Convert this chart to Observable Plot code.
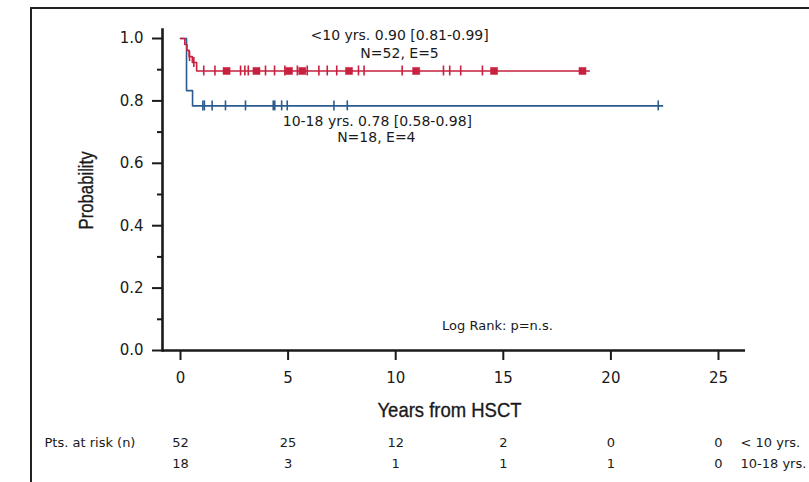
<!DOCTYPE html>
<html>
<head>
<meta charset="utf-8">
<script src="https://cdn.jsdelivr.net/npm/d3@7"></script>
<script src="https://cdn.jsdelivr.net/npm/@observablehq/plot@0.6"></script>
<style>
  html, body { margin: 0; padding: 0; background: #fff; }
  #wrap { position: relative; width: 809px; height: 482px; overflow: hidden; }
  #border { position: absolute; left: 30px; top: 7px; width: 900px; height: 600px;
            border-left: 2px solid #222; border-top: 2px solid #222; pointer-events: none; }
</style>
</head>
<body>
<div id="wrap"><div id="chart"></div><div id="border"></div></div>
<script>
// ---- data ----
const xTicks = [0, 5, 10, 15, 20, 25];
const yTicks = [0, 0.2, 0.4, 0.6, 0.8, 1.0];
const yMinorTicks = [0.1, 0.3, 0.5, 0.7, 0.9];

const groupYoung = "< 10 yrs.";
const groupOld = "10-18 yrs.";
const riskYoung = [52, 25, 12, 2, 0, 0];
const riskOld = [18, 3, 1, 1, 1, 0];

// Kaplan-Meier step points (time in years, survival probability)
const youngTimes = [0, 0.2, 0.3, 0.4, 0.55, 0.75, 19.0];
const youngSurv  = [1, 0.981, 0.962, 0.942, 0.923, 0.896, 0.896];
const oldTimes = [0, 0.28, 0.56, 22.4];
const oldSurv  = [1, 0.833, 0.784, 0.784];

// censoring marks (single ticks) and clustered marks (drawn as squares)
const youngCensor = [0.42, 0.62, 1.08, 1.60, 2.79, 2.99, 3.15, 3.95, 4.37, 4.85, 5.43, 5.89,
                     6.43, 6.82, 7.26, 8.27, 8.53, 10.30, 12.22, 12.51, 13.02, 14.03];
const youngCensorCluster = [2.14, 3.53, 5.04, 5.66, 7.83, 10.95, 14.57, 18.68];
const oldCensor = [1.04, 1.11, 1.47, 2.09, 3.02, 4.31, 4.38, 4.70, 4.96, 7.13, 7.75, 22.2];

const youngLabel = ["<10 yrs. 0.90 [0.81-0.99]", "N=52, E=5"];
const oldLabel = ["10-18 yrs. 0.78 [0.58-0.98]", "N=18, E=4"];
const testLabel = "Log Rank: p=n.s.";
const riskTitle = "Pts. at risk (n)";
const xTitle = "Years from HSCT";
const yTitle = "Probability";

// ---- build tables ----
const RED = "#c8203f";
const BLUE = "#2c5b8e";
function survAt(times, surv, t) {
  let s = surv[0];
  for (let i = 0; i < times.length; i++) if (times[i] <= t) s = surv[i];
  return s;
}
const youngCurve = youngTimes.map((t, i) => ({t, s: youngSurv[i]}));
const oldCurve = oldTimes.map((t, i) => ({t, s: oldSurv[i]}));
const youngCens = youngCensor.map(t => ({t, s: survAt(youngTimes, youngSurv, t)}));
const youngClus = youngCensorCluster.map(t => ({t, s: survAt(youngTimes, youngSurv, t)}));
const oldCens = oldCensor.map(t => ({t, s: survAt(oldTimes, oldSurv, t)}));
const riskRows = [
  ...xTicks.map((x, i) => ({x, n: riskYoung[i], row: 0})),
  ...xTicks.map((x, i) => ({x, n: riskOld[i], row: 1}))
];

const titleFont = "'Liberation Sans', Arial, sans-serif";
const ink = "#1a1a1a";

const chart = Plot.plot({
  width: 809,
  height: 482,
  marginLeft: 162,
  marginRight: 64,
  marginTop: 29,
  marginBottom: 132,
  style: {fontFamily: "'DejaVu Sans', sans-serif", color: ink, background: "transparent"},
  x: {domain: [0, 25], range: [180, 718]},
  y: {domain: [0, 1], range: [350, 38]},
  marks: [
    // axes
    Plot.axisY(yTicks, {tickSize: 10, tickPadding: 9, tickFormat: d3.format(".1f"), fontSize: 15, strokeWidth: 2, label: null}),
    Plot.axisY(yMinorTicks, {tickSize: 5, tickFormat: () => "", strokeWidth: 2, label: null}),
    Plot.axisX(xTicks, {tickSize: 10, tickPadding: 12, fontSize: 15, strokeWidth: 2, label: null}),
    Plot.frame({anchor: "left", strokeWidth: 2.6, stroke: ink}),
    Plot.ruleY([0], {strokeWidth: 2.6, stroke: ink}),
    // curves
    Plot.line(oldCurve, {x: "t", y: "s", curve: "step-after", stroke: BLUE, strokeWidth: 1.6}),
    Plot.ruleX(oldCens, {x: "t", y1: "s", y2: "s", insetTop: -5, insetBottom: -5, stroke: BLUE, strokeWidth: 1.6}),
    Plot.line(youngCurve, {x: "t", y: "s", curve: "step-after", stroke: RED, strokeWidth: 1.6}),
    Plot.ruleX(youngCens, {x: "t", y1: "s", y2: "s", insetTop: -5, insetBottom: -5, stroke: RED, strokeWidth: 1.6}),
    Plot.dot(youngClus, {x: "t", y: "s", symbol: "square", r: 4, fill: RED, stroke: RED, strokeWidth: 0.5}),
    // annotations
    Plot.text([youngLabel[0]], {x: 10.18, y: 1.01, fontSize: 14, fill: ink}),
    Plot.text([youngLabel[1]], {x: 10.18, y: 0.952, fontSize: 14, fill: ink}),
    Plot.text([oldLabel[0]], {x: 9.15, y: 0.734, fontSize: 14, fill: ink}),
    Plot.text([oldLabel[1]], {x: 9.1, y: 0.683, fontSize: 14, fill: ink}),
    Plot.text([testLabel], {x: 14.73, y: 0.08, fontSize: 13, fill: ink}),
    // axis titles
    Plot.text([xTitle], {x: (xTicks[0] + xTicks[xTicks.length - 1]) / 2, y: yTicks[0], dy: 60,
      fontFamily: titleFont, fontSize: 21, fill: ink, stroke: ink, strokeWidth: 0.35}),
    Plot.text([yTitle], {x: -4.37, y: 0.513, rotate: -90,
      fontFamily: titleFont, fontSize: 21, fill: ink, stroke: ink, strokeWidth: 0.35}),
    // risk table
    Plot.text(riskRows.filter(d => d.row === 0), {x: "x", y: yTicks[0], text: "n", dy: 92, fontSize: 13, fill: ink}),
    Plot.text(riskRows.filter(d => d.row === 1), {x: "x", y: yTicks[0], text: "n", dy: 113, fontSize: 13, fill: ink}),
    Plot.text([riskTitle], {x: xTicks[0], y: yTicks[0], dx: -136, dy: 92, textAnchor: "start", fontSize: 13, fill: ink}),
    Plot.text([groupYoung], {x: xTicks[xTicks.length - 1], y: yTicks[0], dx: 22, dy: 92, textAnchor: "start", fontSize: 13, fill: ink}),
    Plot.text([groupOld], {x: xTicks[xTicks.length - 1], y: yTicks[0], dx: 22, dy: 113, textAnchor: "start", fontSize: 13, fill: ink})
  ]
});
// condense the two axis titles to the narrow look of the original
d3.select(chart).selectAll("text").each(function () {
  if (this.textContent === xTitle) { this.setAttribute("textLength", 144); this.setAttribute("lengthAdjust", "spacingAndGlyphs"); }
  if (this.textContent === yTitle) { this.setAttribute("textLength", 78); this.setAttribute("lengthAdjust", "spacingAndGlyphs"); }
});
document.getElementById("chart").appendChild(chart);
</script>
</body>
</html>
